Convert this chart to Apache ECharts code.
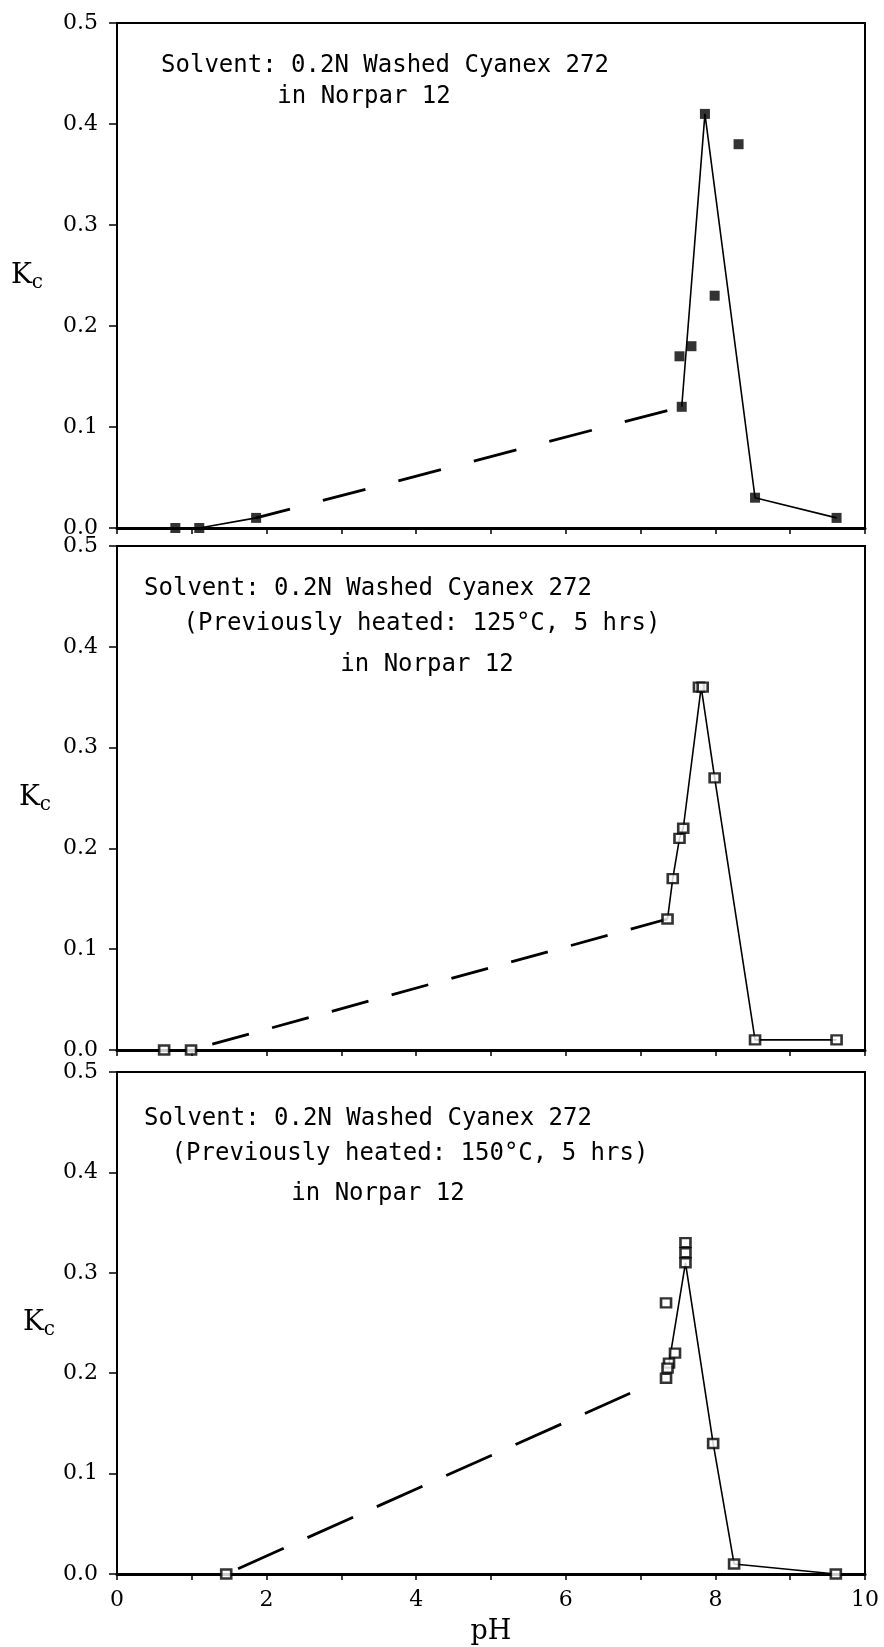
<!DOCTYPE html>
<html>
<head>
<meta charset="utf-8">
<script src="https://cdn.jsdelivr.net/npm/echarts@6/dist/echarts.min.js"></script>
<style>
  html, body { margin: 0; padding: 0; background: #fff; }
  #kcChart { width: 884px; height: 1647px; }
</style>
</head>
<body>
<div id="kcChart"></div>
<script>
// x ticks / y ticks
const phTicks = [0, 1, 2, 3, 4, 5, 6, 7, 8, 9, 10]
const kcTicks = [0, 0.1, 0.2, 0.3, 0.4, 0.5]

// panel 1: washed Cyanex 272 (filled squares)
const phTop = [0.78, 1.1, 1.86, 7.55, 7.52, 7.68, 7.86, 8.31, 7.99, 8.53, 9.62]
const kcTop = [0, 0, 0.01, 0.12, 0.17, 0.18, 0.41, 0.38, 0.23, 0.03, 0.01]
const phTopLow = [0.78, 1.1, 1.86]
const kcTopLow = [0, 0, 0.01]
const phTopDash = [1.86, 7.55]
const kcTopDash = [0.01, 0.12]
const phTopPeak = [7.55, 7.86, 8.53, 9.62]
const kcTopPeak = [0.12, 0.41, 0.03, 0.01]

// panel 2: heated 125 C
const phMid = [0.63, 0.99, 7.36, 7.43, 7.52, 7.57, 7.78, 7.83, 7.99, 8.53, 9.62]
const kcMid = [0, 0, 0.13, 0.17, 0.21, 0.22, 0.36, 0.36, 0.27, 0.01, 0.01]
const phMidLow = [0.63, 0.99]
const kcMidLow = [0, 0]
const phMidDash = [0.99, 7.36]
const kcMidDash = [0, 0.13]
const phMidPeak = [7.36, 7.43, 7.52, 7.57, 7.81, 7.99, 8.53, 9.62]
const kcMidPeak = [0.13, 0.17, 0.21, 0.22, 0.36, 0.27, 0.01, 0.01]

// panel 3: heated 150 C
const phBot = [1.46, 7.34, 7.6, 7.6, 7.6, 7.46, 7.38, 7.36, 7.34, 7.97, 8.25, 9.61]
const kcBot = [0, 0.27, 0.33, 0.32, 0.31, 0.22, 0.21, 0.205, 0.195, 0.13, 0.01, 0]
const phBotDash = [1.46, 6.86]
const kcBotDash = [0, 0.18]
const phBotPeak = [7.38, 7.6, 7.97, 8.25, 9.61]
const kcBotPeak = [0.21, 0.31, 0.13, 0.01, 0]

const notesTop = ['Solvent: 0.2N Washed Cyanex 272', 'in Norpar 12']
const notesMid = ['Solvent: 0.2N Washed Cyanex 272', '(Previously heated: 125°C, 5 hrs)', 'in Norpar 12']
const notesBot = ['Solvent: 0.2N Washed Cyanex 272', '(Previously heated: 150°C, 5 hrs)', 'in Norpar 12']

const zip = (xs, ys) => xs.map((x, i) => [x, ys[i]])

const serif = 'DejaVu Serif'
const mono = 'DejaVu Sans Mono'

const grids = [
  { left: 117, right: 19, top: 23, height: 505 },
  { left: 117, right: 19, top: 546, height: 504 },
  { left: 117, right: 19, top: 1072, height: 502 }
]
const kcGaps = [74, 66, 62]

const makeX = (i) => ({
  type: 'value',
  gridIndex: i,
  min: phTicks[0],
  max: phTicks[phTicks.length - 1],
  interval: 1,
  axisLine: { show: true, onZero: false, lineStyle: { color: '#000', width: 3 } },
  axisTick: { show: true, inside: false, length: 6, lineStyle: { color: '#000', width: 1.5 } },
  splitLine: { show: false },
  axisLabel: {
    show: i === 2,
    margin: 15,
    color: '#000',
    fontFamily: serif,
    fontSize: 22,
    formatter: (v) => (v % 2 === 0 ? String(v) : '')
  },
  name: i === 2 ? 'pH' : '',
  nameLocation: 'middle',
  nameGap: 44,
  nameTextStyle: { color: '#000', fontFamily: serif, fontSize: 27 }
})

const makeY = (i) => ({
  type: 'value',
  gridIndex: i,
  min: kcTicks[0],
  max: kcTicks[kcTicks.length - 1],
  interval: 0.1,
  axisLine: { show: true, lineStyle: { color: '#000', width: 2 } },
  axisTick: { show: true, inside: false, length: 8, lineStyle: { color: '#000', width: 1.5 } },
  splitLine: { show: false },
  axisLabel: {
    margin: 19,
    color: '#000',
    fontFamily: serif,
    fontSize: 22,
    formatter: (v) => v.toFixed(1)
  },
  name: '{k|K}{c|c}',
  nameLocation: 'middle',
  nameRotate: 0,
  nameGap: kcGaps[i],
  nameTextStyle: {
    rich: {
      k: { fontFamily: serif, fontSize: 28, color: '#000' },
      c: { fontFamily: serif, fontSize: 20, color: '#000', padding: [14, 0, 0, 0] }
    }
  }
})

const scatter = (i, data, filled) => ({
  type: 'scatter',
  xAxisIndex: i,
  yAxisIndex: i,
  data: data,
  symbol: 'rect',
  symbolSize: filled ? [10, 10] : [10, 9],
  itemStyle: filled
    ? { color: '#000' }
    : { color: '#fff', borderColor: '#000', borderWidth: 2.5 },
  z: 5
})

const line = (i, data, dash, offset) => ({
  type: 'line',
  xAxisIndex: i,
  yAxisIndex: i,
  data: data,
  showSymbol: false,
  silent: true,
  lineStyle: dash
    ? { color: '#000', width: 2.8, type: dash, dashOffset: offset }
    : { color: '#000', width: 1.6 },
  z: 3
})

const noteText = (x, y, text) => ({
  type: 'text',
  x: x,
  y: y,
  style: {
    text: text,
    font: '24px "' + mono + '"',
    fill: '#000',
    textAlign: 'center',
    textVerticalAlign: 'middle',
    align: 'center',
    verticalAlign: 'middle'
  }
})

const chart = echarts.init(document.getElementById('kcChart'))

const option = {
  backgroundColor: '#fff',
  animation: false,
  grid: grids.map((g) => Object.assign({
    show: true,
    borderColor: '#000',
    borderWidth: 2,
    containLabel: false,
    outerBoundsMode: 'none'
  }, g)),
  xAxis: [makeX(0), makeX(1), makeX(2)],
  yAxis: [makeY(0), makeY(1), makeY(2)],
  series: [
    line(0, zip(phTopLow, kcTopLow)),
    line(0, zip(phTopDash, kcTopDash), [44, 34], 9),
    line(0, zip(phTopPeak, kcTopPeak)),
    scatter(0, zip(phTop, kcTop), true),

    line(1, zip(phMidLow, kcMidLow)),
    line(1, zip(phMidDash, kcMidDash), [38, 24], 40),
    line(1, zip(phMidPeak, kcMidPeak)),
    scatter(1, zip(phMid, kcMid), false),

    line(2, zip(phBotDash, kcBotDash), [50, 26], 63),
    line(2, zip(phBotPeak, kcBotPeak)),
    scatter(2, zip(phBot, kcBot), false)
  ],
  graphic: [
    noteText(385, 66, notesTop[0]),
    noteText(364, 97, notesTop[1]),
    noteText(368, 589, notesMid[0]),
    noteText(422, 624, notesMid[1]),
    noteText(427, 665, notesMid[2]),
    noteText(368, 1119, notesBot[0]),
    noteText(410, 1154, notesBot[1]),
    noteText(378, 1194, notesBot[2])
  ]
}

chart.setOption(option)
</script>
</body>
</html>
